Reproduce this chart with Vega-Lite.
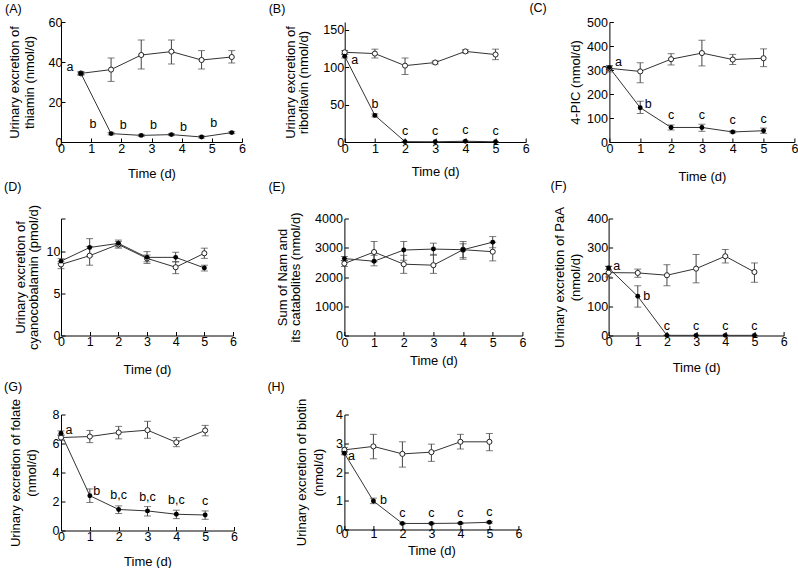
{
"$schema": "https://vega.github.io/schema/vega-lite/v6.json",
"padding": {"left": 4, "top": 1, "right": 0, "bottom": 0},
"config": {
  "view": {"stroke": null},
  "font": "Liberation Sans",
  "axis": {"grid": false, "domainColor": "#000", "tickColor": "#000", "labelColor": "#000", "titleColor": "#000", "labelFont": "Liberation Sans", "titleFont": "Liberation Sans", "labelFontSize": 12.5, "titleFontSize": 13, "titleFontWeight": "normal", "tickSize": -4, "domainWidth": 1, "tickWidth": 1, "labelFlush": false, "labelOverlap": false, "format": "d"},
  "title": {"fontSize": 12.5, "fontWeight": "normal", "font": "Liberation Sans", "anchor": "start", "frame": "group", "color": "#000"}
},
"datasets": {
  "A": [
    {"g": "open", "t": 0.66, "y": 34.3, "lo": 33.5, "hi": 35.1},
    {"g": "open", "t": 1.66, "y": 36.2, "lo": 30.3, "hi": 42.0},
    {"g": "open", "t": 2.66, "y": 43.5, "lo": 36.5, "hi": 51.0},
    {"g": "open", "t": 3.66, "y": 45.2, "lo": 39.0, "hi": 51.0},
    {"g": "open", "t": 4.66, "y": 41.0, "lo": 36.5, "hi": 45.7},
    {"g": "open", "t": 5.66, "y": 42.5, "lo": 39.5, "hi": 45.7},
    {"g": "filled", "t": 0.66, "y": 34.3, "lo": 33.6, "hi": 35.0, "lab": "a"},
    {"g": "filled", "t": 1.66, "y": 4.2, "lo": 3.6, "hi": 4.8, "lab": "b"},
    {"g": "filled", "t": 2.66, "y": 3.3, "lo": 2.8, "hi": 3.8, "lab": "b"},
    {"g": "filled", "t": 3.66, "y": 3.7, "lo": 3.2, "hi": 4.2, "lab": "b"},
    {"g": "filled", "t": 4.66, "y": 2.5, "lo": 2.0, "hi": 3.0, "lab": "b"},
    {"g": "filled", "t": 5.66, "y": 4.7, "lo": 4.2, "hi": 5.2, "lab": "b"}
  ],
  "B": [
    {"g": "open", "t": 0, "y": 119.6, "lo": 117, "hi": 122},
    {"g": "open", "t": 1, "y": 117.9, "lo": 112, "hi": 123.8},
    {"g": "open", "t": 2, "y": 101.8, "lo": 90, "hi": 112},
    {"g": "open", "t": 3, "y": 106, "lo": 104, "hi": 108},
    {"g": "open", "t": 4, "y": 120.8, "lo": 118.7, "hi": 123},
    {"g": "open", "t": 5, "y": 116.6, "lo": 109.8, "hi": 123.8},
    {"g": "filled", "t": 0, "y": 114.5, "lo": 112, "hi": 117, "lab": "a"},
    {"g": "filled", "t": 1, "y": 35.5, "lo": 33.5, "hi": 37.5, "lab": "b"},
    {"g": "filled", "t": 2, "y": 0.5, "lo": 0.2, "hi": 0.8, "lab": "c"},
    {"g": "filled", "t": 3, "y": 0.3, "lo": 0.1, "hi": 0.5, "lab": "c"},
    {"g": "filled", "t": 4, "y": 1.0, "lo": 0.6, "hi": 1.4, "lab": "c"},
    {"g": "filled", "t": 5, "y": 0.3, "lo": 0.1, "hi": 0.5, "lab": "c"}
  ],
  "C": [
    {"g": "open", "t": 0, "y": 307, "lo": 292, "hi": 318},
    {"g": "open", "t": 1, "y": 294, "lo": 247, "hi": 330},
    {"g": "open", "t": 2, "y": 345, "lo": 321, "hi": 368},
    {"g": "open", "t": 3, "y": 370.6, "lo": 317, "hi": 424},
    {"g": "open", "t": 4, "y": 343.6, "lo": 323, "hi": 365},
    {"g": "open", "t": 5, "y": 349, "lo": 314, "hi": 388},
    {"g": "filled", "t": 0, "y": 310, "lo": 303, "hi": 317, "lab": "a"},
    {"g": "filled", "t": 1, "y": 143, "lo": 118.6, "hi": 170, "lab": "b"},
    {"g": "filled", "t": 2, "y": 60.6, "lo": 50, "hi": 71, "lab": "c"},
    {"g": "filled", "t": 3, "y": 60.6, "lo": 44.5, "hi": 74, "lab": "c"},
    {"g": "filled", "t": 4, "y": 41.8, "lo": 38, "hi": 46, "lab": "c"},
    {"g": "filled", "t": 5, "y": 47, "lo": 36, "hi": 58, "lab": "c"}
  ],
  "D": [
    {"g": "open", "t": 0, "y": 8.5, "lo": 8.0, "hi": 8.82},
    {"g": "open", "t": 1, "y": 9.55, "lo": 8.41, "hi": 10.65},
    {"g": "open", "t": 2, "y": 10.9, "lo": 10.45, "hi": 11.26},
    {"g": "open", "t": 3, "y": 9.23, "lo": 8.62, "hi": 9.63},
    {"g": "open", "t": 4, "y": 8.17, "lo": 7.4, "hi": 8.82},
    {"g": "open", "t": 5, "y": 9.84, "lo": 9.23, "hi": 10.45},
    {"g": "filled", "t": 0, "y": 8.9, "lo": 8.6, "hi": 9.2},
    {"g": "filled", "t": 1, "y": 10.53, "lo": 9.5, "hi": 11.59},
    {"g": "filled", "t": 2, "y": 11.02, "lo": 10.6, "hi": 11.42},
    {"g": "filled", "t": 3, "y": 9.35, "lo": 8.82, "hi": 10.04},
    {"g": "filled", "t": 4, "y": 9.35, "lo": 8.82, "hi": 9.96},
    {"g": "filled", "t": 5, "y": 8.09, "lo": 7.72, "hi": 8.41}
  ],
  "E": [
    {"g": "open", "t": 0, "y": 2461, "lo": 2360, "hi": 2560},
    {"g": "open", "t": 1, "y": 2854, "lo": 2517, "hi": 3213},
    {"g": "open", "t": 2, "y": 2438, "lo": 2124, "hi": 2742},
    {"g": "open", "t": 3, "y": 2404, "lo": 2124, "hi": 2775},
    {"g": "open", "t": 4, "y": 2933, "lo": 2607, "hi": 3135},
    {"g": "open", "t": 5, "y": 2865, "lo": 2551, "hi": 3191},
    {"g": "filled", "t": 0, "y": 2629, "lo": 2560, "hi": 2700},
    {"g": "filled", "t": 1, "y": 2539, "lo": 2382, "hi": 2742},
    {"g": "filled", "t": 2, "y": 2921, "lo": 2573, "hi": 3213},
    {"g": "filled", "t": 3, "y": 2955, "lo": 2742, "hi": 3157},
    {"g": "filled", "t": 4, "y": 2933, "lo": 2663, "hi": 3213},
    {"g": "filled", "t": 5, "y": 3191, "lo": 3000, "hi": 3382}
  ],
  "F": [
    {"g": "open", "t": 0, "y": 215, "lo": 200, "hi": 237},
    {"g": "open", "t": 1, "y": 214, "lo": 199, "hi": 227},
    {"g": "open", "t": 2, "y": 206, "lo": 170, "hi": 242},
    {"g": "open", "t": 3, "y": 228.6, "lo": 180, "hi": 277},
    {"g": "open", "t": 4, "y": 271, "lo": 248, "hi": 294},
    {"g": "open", "t": 5, "y": 217, "lo": 182, "hi": 248},
    {"g": "filled", "t": 0, "y": 231, "lo": 226, "hi": 236, "lab": "a"},
    {"g": "filled", "t": 1, "y": 134, "lo": 97, "hi": 170, "lab": "b"},
    {"g": "filled", "t": 2, "y": 0.5, "lo": 0.2, "hi": 0.8, "lab": "c"},
    {"g": "filled", "t": 3, "y": 0.5, "lo": 0.2, "hi": 0.8, "lab": "c"},
    {"g": "filled", "t": 4, "y": 0.5, "lo": 0.2, "hi": 0.8, "lab": "c"},
    {"g": "filled", "t": 5, "y": 0.5, "lo": 0.2, "hi": 0.8, "lab": "c"}
  ],
  "G": [
    {"g": "open", "t": 0, "y": 6.41, "lo": 6.2, "hi": 6.6},
    {"g": "open", "t": 1, "y": 6.48, "lo": 6.06, "hi": 6.9},
    {"g": "open", "t": 2, "y": 6.76, "lo": 6.32, "hi": 7.18},
    {"g": "open", "t": 3, "y": 6.92, "lo": 6.36, "hi": 7.53},
    {"g": "open", "t": 4, "y": 6.08, "lo": 5.78, "hi": 6.41},
    {"g": "open", "t": 5, "y": 6.9, "lo": 6.53, "hi": 7.25},
    {"g": "filled", "t": 0, "y": 6.71, "lo": 6.55, "hi": 6.87, "lab": "a"},
    {"g": "filled", "t": 1, "y": 2.4, "lo": 1.93, "hi": 2.87, "lab": "b"},
    {"g": "filled", "t": 2, "y": 1.45, "lo": 1.17, "hi": 1.7, "lab": "b,c"},
    {"g": "filled", "t": 3, "y": 1.35, "lo": 1.0, "hi": 1.65, "lab": "b,c"},
    {"g": "filled", "t": 4, "y": 1.12, "lo": 0.82, "hi": 1.4, "lab": "b,c"},
    {"g": "filled", "t": 5, "y": 1.07, "lo": 0.77, "hi": 1.35, "lab": "c"}
  ],
  "H": [
    {"g": "open", "t": 0, "y": 2.77, "lo": 2.7, "hi": 2.85},
    {"g": "open", "t": 1, "y": 2.89, "lo": 2.46, "hi": 3.31},
    {"g": "open", "t": 2, "y": 2.63, "lo": 2.17, "hi": 3.05},
    {"g": "open", "t": 3, "y": 2.69, "lo": 2.37, "hi": 2.97},
    {"g": "open", "t": 4, "y": 3.05, "lo": 2.8, "hi": 3.31},
    {"g": "open", "t": 5, "y": 3.05, "lo": 2.74, "hi": 3.34},
    {"g": "filled", "t": 0, "y": 2.65, "lo": 2.6, "hi": 2.7, "lab": "a"},
    {"g": "filled", "t": 1, "y": 0.99, "lo": 0.9, "hi": 1.09, "lab": "b"},
    {"g": "filled", "t": 2, "y": 0.21, "lo": 0.19, "hi": 0.23, "lab": "c"},
    {"g": "filled", "t": 3, "y": 0.21, "lo": 0.19, "hi": 0.23, "lab": "c"},
    {"g": "filled", "t": 4, "y": 0.22, "lo": 0.2, "hi": 0.24, "lab": "c"},
    {"g": "filled", "t": 5, "y": 0.25, "lo": 0.22, "hi": 0.28, "lab": "c"}
  ]
},
"vconcat": [
 {"vconcat": [
  {"hconcat": [
   {"hconcat": [
    {
     "data": {"name": "A"}, "width": 181, "height": 120,
     "title": {"text": "(A)", "dx": -56, "offset": 1},
     "resolve": {"axis": {"y": "independent"}},
     "encoding": {"x": {"field": "t", "type": "quantitative", "scale": {"domain": [0, 6]}, "axis": {"values": [0,1,2,3,4,5,6], "title": "Time (d)", "labelPadding": 4, "titlePadding": 13}}},
     "layer": [
      {"mark": {"type": "line", "color": "#333", "strokeWidth": 1}, "encoding": {"y": {"field": "y", "type": "quantitative", "scale": {"domain": [0, 60]}, "axis": {"values": [0,20,40,60], "title": ["Urinary excretion of", "thiamin (nmol/d)"], "labelPadding": 3, "titlePadding": 12, "titleLineHeight": 15}}, "detail": {"field": "g"}}},
      {"mark": {"type": "errorbar", "color": "#444", "ticks": {"size": 7}}, "encoding": {"y": {"field": "lo", "type": "quantitative", "axis": null}, "y2": {"field": "hi"}}},
      {"transform": [{"filter": "datum.g == 'open'"}], "mark": {"type": "point", "shape": "circle", "filled": true, "fill": "#fff", "stroke": "#222", "strokeWidth": 1, "size": 26, "opacity": 1}, "encoding": {"y": {"field": "y", "type": "quantitative", "axis": null}}},
      {"transform": [{"filter": "datum.g == 'filled'"}], "mark": {"type": "point", "shape": "circle", "filled": true, "color": "#000", "size": 24, "opacity": 1}, "encoding": {"y": {"field": "y", "type": "quantitative", "axis": null}}},
      {"transform": [{"filter": "datum.lab == 'a'"}], "mark": {"type": "text", "dx": -11, "dy": -6, "fontSize": 12.5, "font": "Liberation Sans"}, "encoding": {"y": {"field": "y", "type": "quantitative", "axis": null}, "text": {"field": "lab"}}},
      {"transform": [{"filter": "datum.lab == 'b'"}], "mark": {"type": "text", "dx": -18, "dy": -10, "fontSize": 12.5, "font": "Liberation Sans"}, "encoding": {"y": {"field": "y", "type": "quantitative", "axis": null}, "text": {"field": "lab"}}}
     ]
    },
    {
     "data": {"name": "B"}, "width": 181, "height": 120,
     "title": {"text": "(B)", "dx": -76, "offset": 7},
     "resolve": {"axis": {"y": "independent"}},
     "encoding": {"x": {"field": "t", "type": "quantitative", "scale": {"domain": [0, 6]}, "axis": {"values": [0,1,2,3,4,5,6], "title": "Time (d)", "labelPadding": 4, "titlePadding": 11}}},
     "layer": [
      {"mark": {"type": "line", "color": "#333", "strokeWidth": 1}, "encoding": {"y": {"field": "y", "type": "quantitative", "scale": {"domain": [0, 150]}, "axis": {"values": [0,50,100,150], "title": ["Urinary excretion of", "riboflavin (nmol/d)"], "labelPadding": 5, "titlePadding": 12, "titleLineHeight": 13.3}}, "detail": {"field": "g"}}},
      {"mark": {"type": "errorbar", "color": "#444", "ticks": {"size": 7}}, "encoding": {"y": {"field": "lo", "type": "quantitative", "axis": null}, "y2": {"field": "hi"}}},
      {"transform": [{"filter": "datum.g == 'open'"}], "mark": {"type": "point", "shape": "circle", "filled": true, "fill": "#fff", "stroke": "#222", "strokeWidth": 1, "size": 26, "opacity": 1}, "encoding": {"y": {"field": "y", "type": "quantitative", "axis": null}}},
      {"transform": [{"filter": "datum.g == 'filled'"}], "mark": {"type": "point", "shape": "circle", "filled": true, "color": "#000", "size": 24, "opacity": 1}, "encoding": {"y": {"field": "y", "type": "quantitative", "axis": null}}},
      {"transform": [{"filter": "datum.lab == 'a'"}], "mark": {"type": "text", "dx": 10, "dy": 4, "fontSize": 12.5, "font": "Liberation Sans"}, "encoding": {"y": {"field": "y", "type": "quantitative", "axis": null}, "text": {"field": "lab"}}},
      {"transform": [{"filter": "datum.lab && datum.lab != 'a'"}], "mark": {"type": "text", "dx": 0, "dy": -11, "fontSize": 12.5, "font": "Liberation Sans"}, "encoding": {"y": {"field": "y", "type": "quantitative", "axis": null}, "text": {"field": "lab"}}}
     ]
    }
   ], "spacing": 22.7},
   {
    "data": {"name": "C"}, "width": 185, "height": 120,
    "title": {"text": "(C)", "dx": -80, "offset": 2},
    "resolve": {"axis": {"y": "independent"}},
    "encoding": {"x": {"field": "t", "type": "quantitative", "scale": {"domain": [0, 6]}, "axis": {"values": [0,1,2,3,4,5,6], "title": "Time (d)", "labelPadding": 4, "titlePadding": 16}}},
    "layer": [
     {"mark": {"type": "line", "color": "#333", "strokeWidth": 1}, "encoding": {"y": {"field": "y", "type": "quantitative", "scale": {"domain": [0, 500]}, "axis": {"values": [0,100,200,300,400,500], "title": "4-PIC (nmol/d)", "labelPadding": 6, "titlePadding": 4}}, "detail": {"field": "g"}}},
     {"mark": {"type": "errorbar", "color": "#444", "ticks": {"size": 7}}, "encoding": {"y": {"field": "lo", "type": "quantitative", "axis": null}, "y2": {"field": "hi"}}},
     {"transform": [{"filter": "datum.g == 'open'"}], "mark": {"type": "point", "shape": "circle", "filled": true, "fill": "#fff", "stroke": "#222", "strokeWidth": 1, "size": 26, "opacity": 1}, "encoding": {"y": {"field": "y", "type": "quantitative", "axis": null}}},
     {"transform": [{"filter": "datum.g == 'filled'"}], "mark": {"type": "point", "shape": "circle", "filled": true, "color": "#000", "size": 24, "opacity": 1}, "encoding": {"y": {"field": "y", "type": "quantitative", "axis": null}}},
     {"transform": [{"filter": "datum.lab == 'a'"}], "mark": {"type": "text", "dx": 9, "dy": -6, "fontSize": 12.5, "font": "Liberation Sans"}, "encoding": {"y": {"field": "y", "type": "quantitative", "axis": null}, "text": {"field": "lab"}}},
     {"transform": [{"filter": "datum.lab == 'b'"}], "mark": {"type": "text", "dx": 8, "dy": -4, "fontSize": 12.5, "font": "Liberation Sans"}, "encoding": {"y": {"field": "y", "type": "quantitative", "axis": null}, "text": {"field": "lab"}}},
     {"transform": [{"filter": "datum.lab == 'c'"}], "mark": {"type": "text", "dx": 0, "dy": -12, "fontSize": 12.5, "font": "Liberation Sans"}, "encoding": {"y": {"field": "y", "type": "quantitative", "axis": null}, "text": {"field": "lab"}}}
    ]
   }
  ], "spacing": -0.6},
  {"hconcat": [
   {"hconcat": [
    {
     "data": {"name": "D"}, "width": 172, "height": 117,
     "title": {"text": "(D)", "dx": -57, "offset": 10.5},
     "resolve": {"axis": {"y": "independent"}},
     "encoding": {"x": {"field": "t", "type": "quantitative", "scale": {"domain": [0, 6]}, "axis": {"values": [0,1,2,3,4,5,6], "title": "Time (d)", "labelPadding": 4, "titlePadding": 15}}},
     "layer": [
      {"mark": {"type": "line", "color": "#333", "strokeWidth": 1}, "encoding": {"y": {"field": "y", "type": "quantitative", "scale": {"domain": [0, 14]}, "axis": {"values": [0,5,10,14], "labelExpr": "datum.value == 14 ? '' : datum.label", "title": ["Urinary excretion of", "cyanocobalamin (pmol/d)"], "labelPadding": 5, "titlePadding": 6, "titleLineHeight": 12.3}}, "detail": {"field": "g"}}},
      {"mark": {"type": "errorbar", "color": "#444", "ticks": {"size": 7}}, "encoding": {"y": {"field": "lo", "type": "quantitative", "axis": null}, "y2": {"field": "hi"}}},
      {"transform": [{"filter": "datum.g == 'open'"}], "mark": {"type": "point", "shape": "circle", "filled": true, "fill": "#fff", "stroke": "#222", "strokeWidth": 1, "size": 26, "opacity": 1}, "encoding": {"y": {"field": "y", "type": "quantitative", "axis": null}}},
      {"transform": [{"filter": "datum.g == 'filled'"}], "mark": {"type": "point", "shape": "circle", "filled": true, "color": "#000", "size": 24, "opacity": 1}, "encoding": {"y": {"field": "y", "type": "quantitative", "axis": null}}}
     ]
    },
    {
     "data": {"name": "E"}, "width": 178, "height": 117,
     "title": {"text": "(E)", "dx": -76, "offset": 18.5},
     "resolve": {"axis": {"y": "independent"}},
     "encoding": {"x": {"field": "t", "type": "quantitative", "scale": {"domain": [0, 6]}, "axis": {"values": [0,1,2,3,4,5,6], "title": "Time (d)", "labelPadding": 5, "titlePadding": 5}}},
     "layer": [
      {"mark": {"type": "line", "color": "#333", "strokeWidth": 1}, "encoding": {"y": {"field": "y", "type": "quantitative", "scale": {"domain": [0, 4000]}, "axis": {"values": [0,1000,2000,3000,4000], "title": ["Sum of Nam and", "its catabolites (nmol/d)"], "labelPadding": 6, "titlePadding": 12, "titleLineHeight": 13.3}}, "detail": {"field": "g"}}},
      {"mark": {"type": "errorbar", "color": "#444", "ticks": {"size": 7}}, "encoding": {"y": {"field": "lo", "type": "quantitative", "axis": null}, "y2": {"field": "hi"}}},
      {"transform": [{"filter": "datum.g == 'open'"}], "mark": {"type": "point", "shape": "circle", "filled": true, "fill": "#fff", "stroke": "#222", "strokeWidth": 1, "size": 26, "opacity": 1}, "encoding": {"y": {"field": "y", "type": "quantitative", "axis": null}}},
      {"transform": [{"filter": "datum.g == 'filled'"}], "mark": {"type": "point", "shape": "circle", "filled": true, "color": "#000", "size": 24, "opacity": 1}, "encoding": {"y": {"field": "y", "type": "quantitative", "axis": null}}}
     ]
    }
   ], "spacing": 31.4},
   {
    "data": {"name": "F"}, "width": 175, "height": 117,
    "title": {"text": "(F)", "dx": -58, "offset": 14.5},
    "resolve": {"axis": {"y": "independent"}},
    "encoding": {"x": {"field": "t", "type": "quantitative", "scale": {"domain": [0, 6]}, "axis": {"values": [0,1,2,3,4,5,6], "title": "Time (d)", "labelPadding": 4, "titlePadding": 13}}},
    "layer": [
     {"mark": {"type": "line", "color": "#333", "strokeWidth": 1}, "encoding": {"y": {"field": "y", "type": "quantitative", "scale": {"domain": [0, 400]}, "axis": {"values": [0,100,200,300,400], "title": ["Urinary excretion of PaA", "(nmol/d)"], "labelPadding": 5, "titlePadding": 4, "titleLineHeight": 16.7}}, "detail": {"field": "g"}}},
     {"mark": {"type": "errorbar", "color": "#444", "ticks": {"size": 7}}, "encoding": {"y": {"field": "lo", "type": "quantitative", "axis": null}, "y2": {"field": "hi"}}},
     {"transform": [{"filter": "datum.g == 'open'"}], "mark": {"type": "point", "shape": "circle", "filled": true, "fill": "#fff", "stroke": "#222", "strokeWidth": 1, "size": 26, "opacity": 1}, "encoding": {"y": {"field": "y", "type": "quantitative", "axis": null}}},
     {"transform": [{"filter": "datum.g == 'filled'"}], "mark": {"type": "point", "shape": "circle", "filled": true, "color": "#000", "size": 24, "opacity": 1}, "encoding": {"y": {"field": "y", "type": "quantitative", "axis": null}}},
     {"transform": [{"filter": "datum.lab == 'a'"}], "mark": {"type": "text", "dx": 8, "dy": -2, "fontSize": 12.5, "font": "Liberation Sans"}, "encoding": {"y": {"field": "y", "type": "quantitative", "axis": null}, "text": {"field": "lab"}}},
     {"transform": [{"filter": "datum.lab == 'b'"}], "mark": {"type": "text", "dx": 9, "dy": 0, "fontSize": 12.5, "font": "Liberation Sans"}, "encoding": {"y": {"field": "y", "type": "quantitative", "axis": null}, "text": {"field": "lab"}}},
     {"transform": [{"filter": "datum.lab == 'c'"}], "mark": {"type": "text", "dx": 0, "dy": -9, "fontSize": 12.5, "font": "Liberation Sans"}, "encoding": {"y": {"field": "y", "type": "quantitative", "axis": null}, "text": {"field": "lab"}}}
    ]
   }
  ], "spacing": 24.6}
 ], "spacing": -4.5},
 {"hconcat": [
  {
   "data": {"name": "G"}, "width": 173, "height": 116,
   "title": {"text": "(G)", "dx": -57, "offset": 5},
   "resolve": {"axis": {"y": "independent"}},
   "encoding": {"x": {"field": "t", "type": "quantitative", "scale": {"domain": [0, 6]}, "axis": {"values": [0,1,2,3,4,5,6], "title": "Time (d)", "labelPadding": 4, "titlePadding": 12}}},
   "layer": [
    {"mark": {"type": "line", "color": "#333", "strokeWidth": 1}, "encoding": {"y": {"field": "y", "type": "quantitative", "scale": {"domain": [0, 8]}, "axis": {"values": [0,2,4,6,8], "title": ["Urinary excretion of folate", "(nmol/d)"], "labelPadding": 6, "titlePadding": 14, "titleLineHeight": 16}}, "detail": {"field": "g"}}},
    {"mark": {"type": "errorbar", "color": "#444", "ticks": {"size": 7}}, "encoding": {"y": {"field": "lo", "type": "quantitative", "axis": null}, "y2": {"field": "hi"}}},
    {"transform": [{"filter": "datum.g == 'open'"}], "mark": {"type": "point", "shape": "circle", "filled": true, "fill": "#fff", "stroke": "#222", "strokeWidth": 1, "size": 26, "opacity": 1}, "encoding": {"y": {"field": "y", "type": "quantitative", "axis": null}}},
    {"transform": [{"filter": "datum.g == 'filled'"}], "mark": {"type": "point", "shape": "circle", "filled": true, "color": "#000", "size": 24, "opacity": 1}, "encoding": {"y": {"field": "y", "type": "quantitative", "axis": null}}},
    {"transform": [{"filter": "datum.lab == 'a'"}], "mark": {"type": "text", "dx": 8, "dy": -3, "fontSize": 12.5, "font": "Liberation Sans"}, "encoding": {"y": {"field": "y", "type": "quantitative", "axis": null}, "text": {"field": "lab"}}},
    {"transform": [{"filter": "datum.lab == 'b'"}], "mark": {"type": "text", "dx": 7, "dy": -5, "fontSize": 12.5, "font": "Liberation Sans"}, "encoding": {"y": {"field": "y", "type": "quantitative", "axis": null}, "text": {"field": "lab"}}},
    {"transform": [{"filter": "datum.lab == 'b,c' || datum.lab == 'c'"}], "mark": {"type": "text", "dx": 0, "dy": -14, "fontSize": 12.5, "font": "Liberation Sans"}, "encoding": {"y": {"field": "y", "type": "quantitative", "axis": null}, "text": {"field": "lab"}}}
   ]
  },
  {
   "data": {"name": "H"}, "width": 174, "height": 115,
   "title": {"text": "(H)", "dx": -77, "offset": 5},
   "resolve": {"axis": {"y": "independent"}},
   "encoding": {"x": {"field": "t", "type": "quantitative", "scale": {"domain": [0, 6]}, "axis": {"values": [0,1,2,3,4,5,6], "title": "Time (d)", "labelPadding": 2, "titlePadding": 4}}},
   "layer": [
    {"mark": {"type": "line", "color": "#333", "strokeWidth": 1}, "encoding": {"y": {"field": "y", "type": "quantitative", "scale": {"domain": [0, 4]}, "axis": {"values": [0,1,2,3,4], "title": ["Urinary excretion of biotin", "(nmol/d)"], "labelPadding": 6, "titlePadding": 10, "titleLineHeight": 16.7}}, "detail": {"field": "g"}}},
    {"mark": {"type": "errorbar", "color": "#444", "ticks": {"size": 7}}, "encoding": {"y": {"field": "lo", "type": "quantitative", "axis": null}, "y2": {"field": "hi"}}},
    {"transform": [{"filter": "datum.g == 'open'"}], "mark": {"type": "point", "shape": "circle", "filled": true, "fill": "#fff", "stroke": "#222", "strokeWidth": 1, "size": 26, "opacity": 1}, "encoding": {"y": {"field": "y", "type": "quantitative", "axis": null}}},
    {"transform": [{"filter": "datum.g == 'filled'"}], "mark": {"type": "point", "shape": "circle", "filled": true, "color": "#000", "size": 24, "opacity": 1}, "encoding": {"y": {"field": "y", "type": "quantitative", "axis": null}}},
    {"transform": [{"filter": "datum.lab == 'a'"}], "mark": {"type": "text", "dx": 7, "dy": 3, "fontSize": 12.5, "font": "Liberation Sans"}, "encoding": {"y": {"field": "y", "type": "quantitative", "axis": null}, "text": {"field": "lab"}}},
    {"transform": [{"filter": "datum.lab == 'b'"}], "mark": {"type": "text", "dx": 10, "dy": -1, "fontSize": 12.5, "font": "Liberation Sans"}, "encoding": {"y": {"field": "y", "type": "quantitative", "axis": null}, "text": {"field": "lab"}}},
    {"transform": [{"filter": "datum.lab == 'c'"}], "mark": {"type": "text", "dx": 0, "dy": -10, "fontSize": 12.5, "font": "Liberation Sans"}, "encoding": {"y": {"field": "y", "type": "quantitative", "axis": null}, "text": {"field": "lab"}}}
   ]
  }
 ], "spacing": 29.4}
], "spacing": 4.5
}
